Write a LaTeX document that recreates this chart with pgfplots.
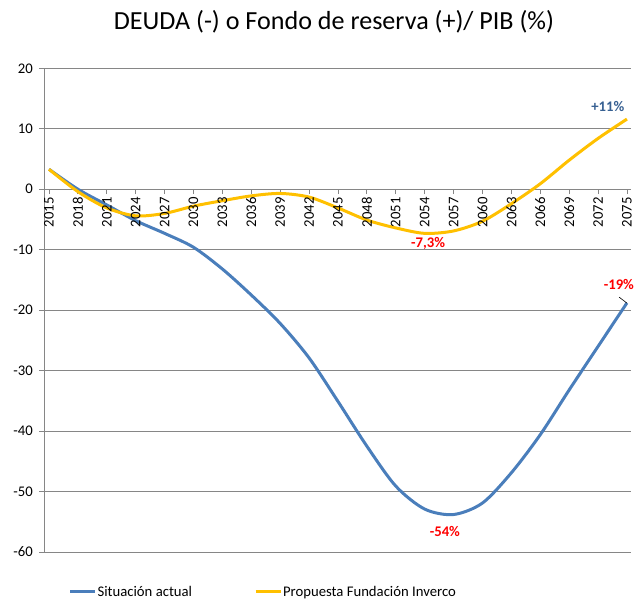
\documentclass[border=0pt]{standalone}
\usepackage{pgfplots}
\pgfplotsset{compat=1.18}
\usepackage{fontspec}
\setmainfont{Carlito}
\definecolor{serA}{RGB}{74,126,187}
\definecolor{serB}{RGB}{255,192,0}
\definecolor{gridc}{RGB}{134,134,134}
\definecolor{lblblue}{RGB}{55,96,146}
\newcommand{\tf}{\fontsize{14.7}{17}\selectfont}
\begin{document}
\begin{tikzpicture}
\begin{axis}[
 scale only axis, width=586.4pt, height=483.7pt,
 xmin=-0.163, xmax=20.13, ymin=-60, ymax=20,
 axis x line*=middle, axis y line*=left,
 axis line style={gridc, line width=0.9pt},
 ymajorgrids, grid style={gridc, line width=0.9pt},
 hide obscured x ticks=false, hide obscured y ticks=false,
 xtick={0,...,20},
 xticklabels={},
 ytick={-60,-50,...,20},
 yticklabels={-60,-50,-40,-30,-20,-10,0,10,20},
 tick style={gridc, line width=0.9pt}, tick align=outside, major tick length=5pt,
 yticklabel style={font=\tf, text=black},
 yticklabel shift=3pt,
 clip=false,
 legend columns=2,
 legend style={at={(axis description cs:0.0411,-0.0821)}, anchor=west, draw=none, fill=none,
   inner sep=0pt, font=\tf, nodes={inner xsep=1pt, inner ysep=0pt},
   /tikz/every even column/.append style={column sep=61pt}},
 legend cell align=left,
 legend image code/.code={\draw[#1, line width=3pt] (0pt,0pt) -- (25pt,0pt);},
]
\coordinate (O) at (rel axis cs:0,0);
\addplot[serA, line width=3pt, smooth, tension=0.5] coordinates {
(0,3.3) (1,0.0) (2,-2.6) (3,-5.2) (4,-7.3) (5,-9.6) (6,-13.2) (7,-17.5) (8,-22.2) (9,-27.9) (10,-35.1)
(11,-42.5) (12,-49.1) (13,-52.9) (14,-53.8) (15,-51.9) (16,-46.9) (17,-40.6) (18,-33.2) (19,-26.0) (20,-18.8)};
\addlegendentry{Situación actual}
\addplot[serB, line width=3pt, smooth, tension=0.5] coordinates {
(0,3.3) (1,-0.4) (2,-3.1) (3,-4.4) (4,-4.0) (5,-2.8) (6,-1.9) (7,-1.1) (8,-0.7) (9,-1.3) (10,-3.1)
(11,-5.1) (12,-6.4) (13,-7.3) (14,-6.9) (15,-5.3) (16,-2.4) (17,0.9) (18,4.8) (19,8.4) (20,11.6)};
\addlegendentry{Propuesta Fundación Inverco}
\pgfplotsinvokeforeach{0,...,20}{
  \node[rotate=90, anchor=east, inner xsep=0pt, inner ysep=0pt, font=\tf, text=black]
    at ([yshift=-8pt]axis cs:#1,0) {\pgfmathparse{int(2015+3*#1)}\pgfmathresult};
}
\node[font=\tf\bfseries, text=red] at (axis cs:13.12,-8.93) {-7,3\%};
\node[font=\tf\bfseries, text=lblblue] at (axis cs:19.34,13.65) {+11\%};
\node[font=\tf\bfseries, text=red] at (axis cs:19.72,-15.82) {-19\%};
\node[font=\tf\bfseries, text=red] at (axis cs:13.70,-56.6) {-54\%};
\draw[black, line width=0.6pt] (axis cs:19.73,-17.85) -- (axis cs:20.0,-18.84);
\end{axis}
\node[font=\fontsize{26.1}{30}\selectfont] at ([shift={(289.7pt,530pt)}]O) {DEUDA (-) o Fondo de reserva (+)/ PIB (\%)};
\pgfresetboundingbox
\path[use as bounding box] ([shift={(-44.3pt,-49pt)}]O) rectangle ++(642pt,601pt);
\end{tikzpicture}
\end{document}
